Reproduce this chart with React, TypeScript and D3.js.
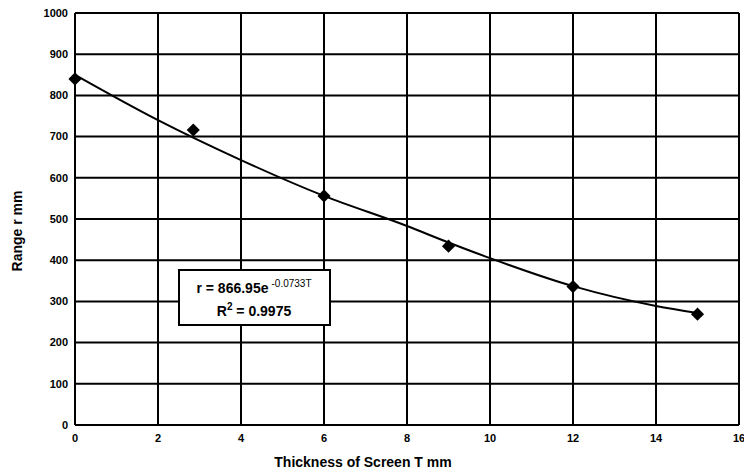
import { useEffect, useRef } from 'react';
import * as d3 from 'd3';

// measured points (thickness T in mm, range r in mm)
const thickness = [0, 2.85, 6, 9, 12, 15];
const range = [840, 716, 556, 434, 336, 269];

// trendline
const trendT = [0, 2, 4, 6, 8, 9, 10, 12, 14, 15];
const trendR = [850, 740, 643, 556, 483, 443, 405, 337, 289, 272];

const xTicks = [0, 2, 4, 6, 8, 10, 12, 14, 16];
const yTicks = [0, 100, 200, 300, 400, 500, 600, 700, 800, 900, 1000];

const fitLabel = 'r = 866.95e';
const fitExp = '-0.0733T';
const r2Label = '0.9975';

const App = () => {
  const ref = useRef<SVGSVGElement>(null);

  useEffect(() => {
    if (!ref.current) return;
    const svg = d3.select(ref.current);
    svg.selectAll('*').remove();

    const left = 75, top = 13, right = 739, bottom = 425;
    const x = d3.scaleLinear().domain([0, 16]).range([left, right]);
    const y = d3.scaleLinear().domain([0, 1000]).range([bottom, top]);
    const font = "'Liberation Sans', Arial, sans-serif";

    svg.append('rect').attr('width', 744).attr('height', 474).attr('fill', '#fff');

    // grid
    const grid = svg.append('g').attr('stroke', '#000').attr('stroke-width', 2);
    grid.selectAll('.gx').data(xTicks).enter().append('line')
      .attr('x1', d => x(d)).attr('x2', d => x(d))
      .attr('y1', top).attr('y2', bottom);
    grid.selectAll('.gy').data(yTicks).enter().append('line')
      .attr('x1', left).attr('x2', right)
      .attr('y1', d => y(d)).attr('y2', d => y(d));

    svg.append('g').selectAll('text').data(xTicks).enter().append('text')
      .attr('x', d => x(d)).attr('y', 442)
      .attr('text-anchor', 'middle')
      .style('font', `bold 11px ${font}`)
      .text(d => d);

    svg.append('g').selectAll('text').data(yTicks).enter().append('text')
      .attr('x', 68).attr('y', d => y(d)).attr('dy', '0.35em')
      .attr('text-anchor', 'end')
      .style('font', `bold 11px ${font}`)
      .text(d => d);

    // trendline
    const line = d3.line<number>()
      .x(d => x(d))
      .y((d, i) => y(trendR[i]))
      .curve(d3.curveMonotoneX);
    svg.append('path')
      .datum(trendT)
      .attr('d', line)
      .attr('fill', 'none').attr('stroke', '#000').attr('stroke-width', 2);

    // diamond markers
    const diamond = d3.symbol().type(d3.symbolDiamond2).size(110);
    svg.append('g').selectAll('path').data(thickness).enter().append('path')
      .attr('d', diamond)
      .attr('transform', (d, i) => `translate(${x(d)},${y(range[i])})`)
      .attr('fill', '#000');

    // equation box
    const box = svg.append('g');
    box.append('rect')
      .attr('x', 179).attr('y', 270).attr('width', 151).attr('height', 55)
      .attr('fill', '#fff').attr('stroke', '#000').attr('stroke-width', 2);
    const eq = box.append('text')
      .attr('x', 254).attr('y', 293).attr('text-anchor', 'middle')
      .style('font', `bold 14px ${font}`);
    eq.append('tspan').text(fitLabel);
    eq.append('tspan').attr('dy', -6).attr('dx', 3).style('font-size', '10px').style('font-weight', 'normal').text(fitExp);
    const r2 = box.append('text')
      .attr('x', 254).attr('y', 316).attr('text-anchor', 'middle')
      .style('font', `bold 14px ${font}`);
    r2.append('tspan').text('R');
    r2.append('tspan').attr('dy', -6).style('font-size', '10px').text('2');
    r2.append('tspan').attr('dy', 6).text(' = ' + r2Label);

    svg.append('text')
      .attr('x', 363).attr('y', 467).attr('text-anchor', 'middle')
      .style('font', `bold 14px ${font}`)
      .text('Thickness of Screen T mm');

    svg.append('text')
      .attr('transform', 'translate(22,231) rotate(-90)')
      .attr('text-anchor', 'middle')
      .style('font', `bold 14px ${font}`)
      .text('Range r mm');
  }, []);

  return (
    <svg ref={ref} width={744} height={474}
      style={{ position: 'absolute', left: 0, top: 0, display: 'block' }} />
  );
};

export default App;
